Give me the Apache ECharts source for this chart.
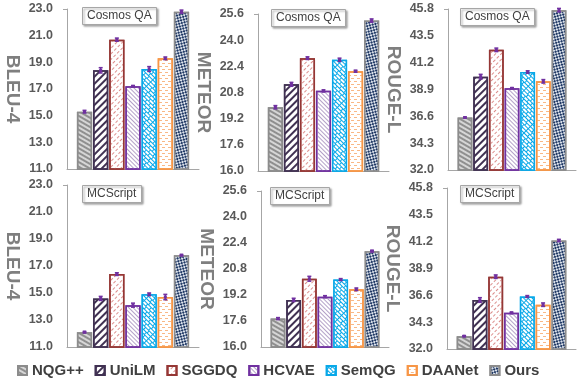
<!DOCTYPE html>
<html>
<head>
<meta charset="utf-8">
<script src="https://cdn.jsdelivr.net/npm/echarts@6/dist/echarts.min.js"></script>
<style>
    html, body { margin: 0; padding: 0; background: #fff; }
    #main { width: 577px; height: 378px; }
</style>
</head>
<body>
<div id="main"></div>
<script>
// methods
var methods = ['NQG++', 'UniLM', 'SGGDQ', 'HCVAE', 'SemQG', 'DAANet', 'Ours'];

// Cosmos QA
var bleuCosmos = [15.3, 18.4, 20.7, 17.2, 18.5, 19.3, 22.8];
var bleuCosmosErr = [0.1, 0.2, 0.12, 0.06, 0.18, 0.1, 0.12];
var meteorCosmos = [19.9, 21.3, 22.9, 20.9, 22.8, 22.1, 25.2];
var meteorCosmosErr = [0.1, 0.12, 0.08, 0.06, 0.1, 0.06, 0.1];
var rougeCosmos = [36.5, 40.0, 42.3, 39.0, 40.4, 39.6, 45.7];
var rougeCosmosErr = [0.05, 0.2, 0.15, 0.06, 0.1, 0.15, 0.15];

// MCScript
var bleuMC = [12.1, 14.6, 16.4, 14.1, 14.9, 14.7, 17.8];
var bleuMCErr = [0.05, 0.15, 0.1, 0.15, 0.1, 0.2, 0.05];
var meteorMC = [17.75, 18.9, 20.2, 19.1, 20.15, 19.55, 21.9];
var meteorMCErr = [0.06, 0.1, 0.15, 0.06, 0.06, 0.08, 0.05];
var rougeMC = [33.1, 36.2, 38.2, 35.1, 36.5, 35.8, 41.3];
var rougeMCErr = [0.04, 0.2, 0.15, 0.06, 0.08, 0.15, 0.1];

// tick labels
var bleuTicks = [11, 13, 15, 17, 19, 21, 23];
var meteorTicks = [16, 17.6, 19.2, 20.8, 22.4, 24, 25.6];
var rougeTicks = [32, 34.3, 36.6, 38.9, 41.2, 43.5, 45.8];

var CAT_GAP = 0.15;
var BAR_GAP = 0.06;

// panel layout
var panels = [
    {title: 'Cosmos QA', name: 'BLEU-4', data: bleuCosmos, err: bleuCosmosErr, ticks: bleuTicks, grid: [67, 9, 132, 160], tpos: [82, 7]},
    {title: 'Cosmos QA', name: 'METEOR', data: meteorCosmos, err: meteorCosmosErr, ticks: meteorTicks, grid: [258, 14, 131, 157], tpos: [271, 9]},
    {title: 'Cosmos QA', name: 'ROUGE-L', data: rougeCosmos, err: rougeCosmosErr, ticks: rougeTicks, grid: [448, 9, 128, 161], tpos: [460, 8]},
    {title: 'MCScript', name: 'BLEU-4', data: bleuMC, err: bleuMCErr, ticks: bleuTicks, grid: [67, 185, 132, 162], tpos: [82, 185]},
    {title: 'MCScript', name: 'METEOR', data: meteorMC, err: meteorMCErr, ticks: meteorTicks, grid: [261, 191, 128, 156], tpos: [270, 187]},
    {title: 'MCScript', name: 'ROUGE-L', data: rougeMC, err: rougeMCErr, ticks: rougeTicks, grid: [447, 188, 129, 161], tpos: [460, 185]}
];

// bar styles (fill + pattern)
var styles = [
    {color: '#d6d6d6', borderColor: '#8c8c8c', decal: {symbol: 'rect', symbolSize: 1, symbolKeepAspect: false, color: '#8f8f8f', dashArrayX: [[8, 0]], dashArrayY: [2, 2]}},
    {color: '#ffffff', borderColor: '#403152', decal: {symbol: 'rect', symbolSize: 1, symbolKeepAspect: false, color: '#403152', dashArrayX: [[8, 0]], dashArrayY: [2, 2.5], rotation: -Math.PI / 4}},
    {color: '#ffffff', borderColor: '#953735', decal: {symbol: 'rect', symbolSize: 1, symbolKeepAspect: false, color: '#dc8f8d', dashArrayX: [[3, 1.5]], dashArrayY: [1, 3], rotation: -Math.PI / 4}},
    {color: '#ffffff', borderColor: '#7030a0', decal: {symbol: 'rect', symbolSize: 1, symbolKeepAspect: false, color: '#b4a2c8', dashArrayX: [[8, 0]], dashArrayY: [1, 1.5], rotation: Math.PI / 4}},
    {color: '#08a8e8', borderColor: '#08a8e8', decal: {symbol: 'rect', symbolSize: 1, symbolKeepAspect: false, color: '#ffffff', dashArrayX: [[4, 1], [1.5, 1, 2.5, 0]], dashArrayY: [2, 1]}},
    {color: '#ffffff', borderColor: '#f79646', decal: {symbol: 'rect', symbolSize: 1, symbolKeepAspect: false, color: '#f9b886', dashArrayX: [[3, 3], [0, 3, 3, 0]], dashArrayY: [1, 2]}},
    {color: '#1f3864', borderColor: '#8c8c8c', decal: {symbol: 'rect', symbolSize: 1, symbolKeepAspect: false, color: '#dde3ec', dashArrayX: [[1.5, 1.5], [0, 1.5, 1.5, 0]], dashArrayY: [1.5, 0]}}
];

// error bars, placed over the bars of one category
function renderErr(params, api) {
    var k = api.value(3);
    var val = api.value(1);
    var e = api.value(2);
    var band = api.size([1, 0])[0];
    var inner = band * (1 - CAT_GAP);
    var bw = inner / (7 + 6 * BAR_GAP);
    var c = api.coord([0, val]);
    var x = c[0] - inner / 2 + bw / 2 + k * bw * (1 + BAR_GAP);
    var top = api.coord([0, val + e])[1];
    var bot = api.coord([0, val - e])[1];
    var st = {stroke: '#7030a0', lineWidth: 1.5};
    return {
        type: 'group',
        children: [
            {type: 'line', shape: {x1: x, y1: top, x2: x, y2: bot}, style: st},
            {type: 'line', shape: {x1: x - 2, y1: top, x2: x + 2, y2: top}, style: st},
            {type: 'line', shape: {x1: x - 2, y1: bot, x2: x + 2, y2: bot}, style: st},
            {type: 'rect', shape: {x: x - 1.5, y: c[1] - 1.5, width: 3, height: 3}, style: {fill: '#7030a0'}}
        ]
    };
}

var grids = [], xAxes = [], yAxes = [], titles = [], series = [];
panels.forEach(function (p, i) {
    grids.push({left: p.grid[0], top: p.grid[1], width: p.grid[2], height: p.grid[3]});
    titles.push({
        text: p.title, left: p.tpos[0], top: p.tpos[1],
        padding: [3, 5], backgroundColor: '#fff', borderColor: '#a6a6a6', borderWidth: 1,
        shadowColor: 'rgba(0,0,0,0.35)', shadowBlur: 2, shadowOffsetX: 1.5, shadowOffsetY: 1.5,
        textStyle: {fontFamily: 'Liberation Sans', fontSize: 12, fontWeight: 'normal', color: '#404040'}
    });
    xAxes.push({
        gridIndex: i, type: 'category', data: [p.title],
        axisLine: {lineStyle: {color: '#a6a6a6'}},
        axisTick: {inside: true, length: 4, lineStyle: {color: '#a6a6a6'}},
        axisLabel: {show: false}
    });
    yAxes.push({
        gridIndex: i, type: 'value',
        min: p.ticks[0], max: p.ticks[p.ticks.length - 1],
        name: p.name, nameLocation: 'middle', nameRotate: -90, nameGap: 45,
        nameTextStyle: {fontFamily: 'Liberation Sans', fontSize: 19, fontWeight: 'bold', color: '#7f7f7f'},
        axisLine: {show: true, lineStyle: {color: '#a6a6a6'}},
        axisTick: {show: true, length: 4, customValues: [p.ticks[p.ticks.length - 1]], lineStyle: {color: '#a6a6a6'}},
        splitLine: {show: false},
        axisLabel: {
            customValues: p.ticks, margin: 14,
            fontFamily: 'Liberation Sans', fontSize: 12.5, fontWeight: 'bold', color: '#595959',
            formatter: function (v) { return v.toFixed(1); }
        }
    });
    methods.forEach(function (m, k) {
        series.push({
            name: m, type: 'bar', xAxisIndex: i, yAxisIndex: i,
            barCategoryGap: (CAT_GAP * 100) + '%', barGap: (BAR_GAP * 100) + '%',
            itemStyle: {color: styles[k].color, borderColor: styles[k].borderColor, borderWidth: 1.5, decal: styles[k].decal},
            emphasis: {disabled: true},
            data: [p.data[k]]
        });
    });
    series.push({
        name: 'err' + i, type: 'custom', xAxisIndex: i, yAxisIndex: i, z: 10,
        renderItem: renderErr,
        encode: {x: 0, y: 1},
        data: p.data.map(function (v, k) { return [0, v, p.err[k], k]; })
    });
});

var myChart = echarts.init(document.getElementById('main'));
var option = {
    animation: false,
    aria: {enabled: true, decal: {show: true}},
    title: titles,
    legend: {
        data: methods, left: 12, top: 358,
        icon: 'rect', itemWidth: 9, itemHeight: 9, itemGap: 11,
        textStyle: {fontFamily: 'Liberation Sans', fontSize: 15, fontWeight: 'bold', color: '#404040'}
    },
    grid: grids,
    xAxis: xAxes,
    yAxis: yAxes,
    series: series
};
myChart.setOption(option);
</script>
</body>
</html>
